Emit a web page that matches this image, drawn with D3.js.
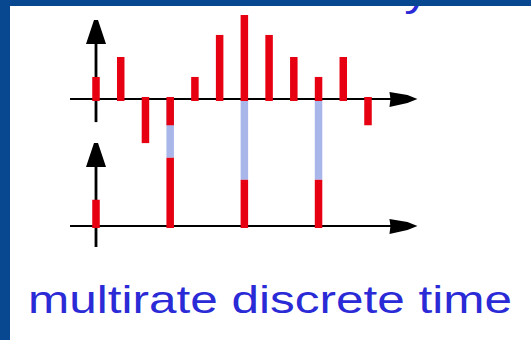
<!DOCTYPE html>
<html>
<head>
<meta charset="utf-8">
<script src="https://d3js.org/d3.v7.min.js"></script>
<style>
    body {
        margin: 0;
        background-color: #084891;
    }

    svg {
        display: block;
    }
</style>
</head>
<body>
<svg></svg>
<script>
    // sample values (1 unit ~ 21px)
    const topSamples = [1.05, 2, -2.1, -1.25, 1.05, 3.05, 4, 3.05, 2, 1.05, 2, -1.25];
    const keptIndex = [0, 3, 6, 9];
    const bottomSamples = [1.25, 3.25, 2.2, 2.2];
    const captionText = "multirate discrete time";
    const headerText = "ordinary discrete time";

    function createVis() {
        let width = 531;
        let height = 340;
        let svg = d3.select("svg")
            .attr("width", width)
            .attr("height", height);

        let red = "#e60012";
        let lightBlue = "#a9b6ea";
        let textBlue = "#2a2ad6";
        let frame = "#084891";
        let barWidth = 7.5;

        // white slide area
        svg.append("rect")
            .attr("x", 10).attr("y", 0)
            .attr("width", width - 10).attr("height", height)
            .attr("fill", "white");

        let xScale = d3.scaleLinear()
            .domain([0, 11])
            .range([96, 368]);
        let yTop = d3.scaleLinear()
            .domain([0, 4])
            .range([99, 15]);
        let yBot = d3.scaleLinear()
            .domain([0, 4])
            .range([226, 142]);

        // header text, only its bottom edge peeks below the frame
        svg.append("text")
            .attr("x", 250)
            .attr("y", 6)
            .attr("font-family", "Liberation Sans, Arial, sans-serif")
            .attr("font-size", 40)
            .attr("fill", textBlue)
            .attr("textLength", 474)
            .attr("lengthAdjust", "spacingAndGlyphs")
            .text(headerText);

        // frame on top and left
        svg.append("rect")
            .attr("x", 0).attr("y", 0)
            .attr("width", width).attr("height", 6)
            .attr("fill", frame);
        svg.append("rect")
            .attr("x", 0).attr("y", 0)
            .attr("width", 10).attr("height", height)
            .attr("fill", frame);

        // light blue connectors from the top axis down to the kept samples (not at n=0, the axis is there)
        svg.selectAll(".link")
            .data(bottomSamples.map((v, i) => ({v: v, n: keptIndex[i]})).filter(d => d.n > 0))
            .join("rect")
            .attr("class", "link")
            .attr("x", d => xScale(d.n) - barWidth / 2)
            .attr("y", yTop(0))
            .attr("width", barWidth)
            .attr("height", d => yBot(d.v) - yTop(0))
            .attr("fill", lightBlue);

        function drawAxes(y, vLow, vHigh) {
            let g = svg.append("g");
            let x0 = xScale(-1.05);
            let x1 = xScale(13);
            let y0 = y(0);
            g.append("line")
                .attr("x1", x0).attr("x2", x1 - 20)
                .attr("y1", y0).attr("y2", y0)
                .attr("stroke", "black")
                .attr("stroke-width", 2.2);
            g.append("path")
                .attr("d", `M${x1},${y0} L${x1 - 10},${y0 - 4} L${x1 - 28},${y0 - 7} L${x1 - 27},${y0} L${x1 - 28},${y0 + 8} L${x1 - 10},${y0 + 4} Z`)
                .attr("fill", "black");
            let vx = xScale(0);
            let top = y(vHigh);
            g.append("line")
                .attr("x1", vx).attr("x2", vx)
                .attr("y1", y(vLow)).attr("y2", top + 16)
                .attr("stroke", "black")
                .attr("stroke-width", 2.8);
            g.append("path")
                .attr("d", `M${vx - 2},${top} L${vx + 2},${top} L${vx + 6},${top + 12} L${vx + 10},${top + 24} L${vx - 10},${top + 24} L${vx - 6},${top + 12} Z`)
                .attr("fill", "black");
        }

        drawAxes(yTop, -1.1, 3.76);
        drawAxes(yBot, -1, 3.95);

        // stems as red bars
        function bar(sel, xf, y, valueOf) {
            sel.attr("x", xf)
                .attr("y", d => Math.min(y(valueOf(d)), y(0) - 2))
                .attr("width", barWidth)
                .attr("height", d => Math.abs(y(valueOf(d)) - y(0)) + 2)
                .attr("fill", red);
        }

        svg.selectAll(".topStem")
            .data(topSamples)
            .join("rect")
            .attr("class", "topStem")
            .call(bar, (d, i) => xScale(i) - barWidth / 2, yTop, d => d);

        svg.selectAll(".botStem")
            .data(bottomSamples)
            .join("rect")
            .attr("class", "botStem")
            .call(bar, (d, i) => xScale(keptIndex[i]) - barWidth / 2, yBot, d => d);

        // caption
        svg.append("text")
            .attr("x", 28)
            .attr("y", 313)
            .attr("font-family", "Liberation Sans, Arial, sans-serif")
            .attr("font-size", 39)
            .attr("fill", textBlue)
            .attr("textLength", 484)
            .attr("lengthAdjust", "spacingAndGlyphs")
            .text(captionText);
    }
    createVis();
</script>
</body>
</html>
